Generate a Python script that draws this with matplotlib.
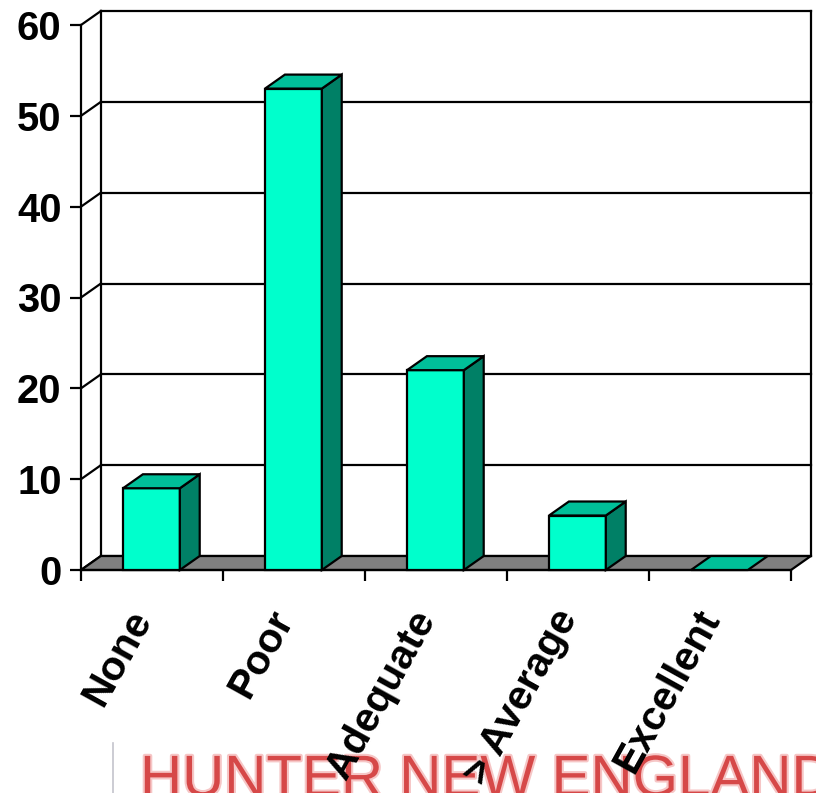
import matplotlib
matplotlib.use('Agg')
import matplotlib.pyplot as plt
import matplotlib.patheffects as pe
import matplotlib.transforms as mtransforms
from matplotlib.patches import Polygon
from matplotlib.lines import Line2D

plt.rcParams['font.family'] = ['Liberation Sans', 'DejaVu Sans']

categories = ['None', 'Poor', 'Adequate', '> Average', 'Excellent']
values = [9, 53, 22, 6, 0]
y_ticks = [0, 10, 20, 30, 40, 50, 60]

# depth of the fake 3d box, in data units
DX, DY = 0.14, 1.54
BAR_OFF, BAR_W = 0.296, 0.40

FRONT = '#00ffcc'
TOP = '#00bf99'
SIDE = '#008066'
LW = 1.6

fig = plt.figure(figsize=(8.16, 7.93), dpi=100)
ax = fig.add_axes([81 / 816, 223 / 793, 710 / 816, 545 / 793])
ax.set_xlim(0, len(categories))
ax.set_ylim(0, y_ticks[-1])
ax.patch.set_visible(False)
for s in ['top', 'right']:
    ax.spines[s].set_visible(False)
ax.spines['left'].set_linewidth(LW)
ax.spines['bottom'].set_linewidth(LW)

n = len(categories)
xr = n + DX
top = y_ticks[-1]

# back wall grid + side wall diagonals
for v in y_ticks:
    ax.plot([DX, xr], [v + DY, v + DY], color='k', lw=LW, clip_on=False, zorder=1.5)
    ax.plot([0, DX], [v, v + DY], color='k', lw=LW, clip_on=False, zorder=1.5)
ax.plot([DX, DX], [DY, top + DY], color='k', lw=LW, clip_on=False, zorder=1.5)
ax.plot([xr, xr], [DY, top + DY], color='k', lw=LW, clip_on=False, zorder=1.5)

# floor
floor = Polygon([(0, 0), (n, 0), (n + DX, DY), (DX, DY)], closed=True,
                fc='#808080', ec='k', lw=LW, clip_on=False, zorder=2)
ax.add_patch(floor)

# columns
for i, v in enumerate(values):
    x0 = i + BAR_OFF
    x1 = x0 + BAR_W
    if v > 0:
        ax.add_patch(Polygon([(x0, 0), (x1, 0), (x1, v), (x0, v)], closed=True,
                             fc=FRONT, ec='k', lw=LW, clip_on=False, zorder=3))
        ax.add_patch(Polygon([(x1, 0), (x1 + DX, DY), (x1 + DX, v + DY), (x1, v)], closed=True,
                             fc=SIDE, ec='k', lw=LW, clip_on=False, zorder=3))
    ax.add_patch(Polygon([(x0, v), (x1, v), (x1 + DX, v + DY), (x0 + DX, v + DY)], closed=True,
                         fc=TOP, ec='k', lw=LW, clip_on=False, zorder=3))

# axes ticks
ax.set_yticks(y_ticks)
ax.tick_params(axis='y', direction='out', length=8, width=LW, pad=6, labelsize=28.8)
for lbl in ax.get_yticklabels():
    lbl.set_fontweight('bold')

ax.set_xticks(range(n + 1))
ax.set_xticklabels([])
ax.set_xticks([i + 0.5 for i in range(n)], minor=True)
ax.set_xticklabels(categories, minor=True, rotation=61, ha='right', va='top',
                   fontweight='bold')
ax.tick_params(axis='x', which='major', direction='out', length=8, width=LW)
ax.tick_params(axis='x', which='minor', length=0, pad=24, labelsize=29.5)
# nudge category labels a little to the right
shift = mtransforms.ScaledTranslation(7 / 100, 0, fig.dpi_scale_trans)
for lbl in ax.get_xticklabels(minor=True):
    lbl.set_transform(lbl.get_transform() + shift)

# banner underneath
fig.text(140 / 816, -3 / 793, 'HUNTER NEW ENGLAND', fontsize=42, color='#d64848',
         fontweight='normal', ha='left', va='baseline', zorder=-1,
         path_effects=[pe.withStroke(linewidth=3, foreground='#f6c6c6')])
fig.add_artist(Line2D([113 / 816, 113 / 816], [0, 50 / 793], color='#c4c4cc', lw=1.2, zorder=-1))

fig.savefig('out.png', dpi=100)
